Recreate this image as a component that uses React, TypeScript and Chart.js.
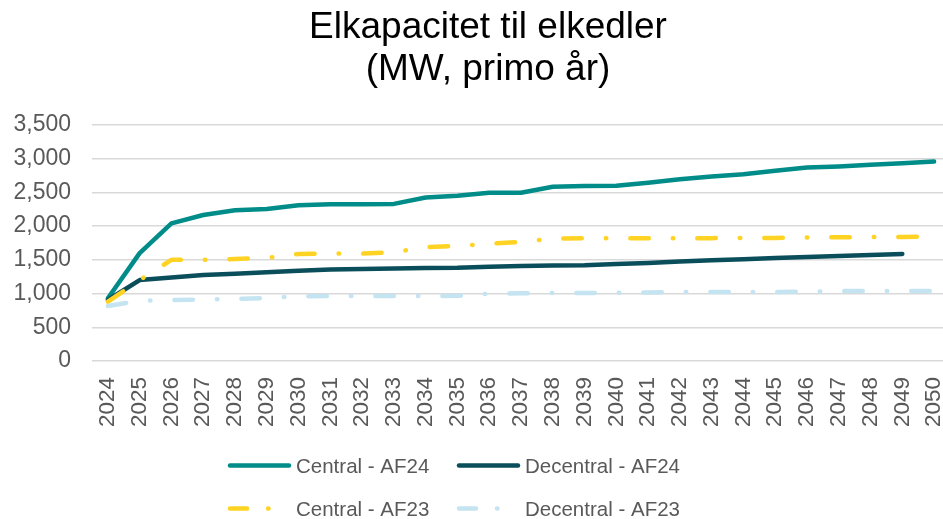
import React, { useEffect, useRef } from "react";
import { Chart, registerables } from "chart.js";

Chart.register(...registerables);

const titleLines = ["Elkapacitet til elkedler", "(MW, primo år)"];

const years = [
  2024, 2025, 2026, 2027, 2028, 2029, 2030, 2031, 2032, 2033, 2034, 2035, 2036,
  2037, 2038, 2039, 2040, 2041, 2042, 2043, 2044, 2045, 2046, 2047, 2048, 2049, 2050,
];

const centralAF24 = [
  930, 1600, 2040, 2165, 2235, 2255, 2310, 2325, 2325, 2330, 2425, 2450, 2495,
  2495, 2585, 2595, 2600, 2645, 2695, 2735, 2770, 2820, 2870, 2885, 2910, 2932, 2957,
];

const decentralAF24 = [
  905, 1200, 1237, 1275, 1295, 1315, 1340, 1358, 1363, 1370, 1380, 1382, 1398,
  1408, 1415, 1420, 1438, 1455, 1474, 1493, 1510, 1528, 1543, 1558, 1573, 1588, null,
];

const centralAF23 = [
  880, 1200, 1500, 1500, 1513, 1528, 1587, 1593, 1593, 1612, 1690, 1705, 1740,
  1765, 1815, 1820, 1820, 1820, 1820, 1822, 1825, 1825, 1832, 1835, 1838, 1840, 1845,
];

const decentralAF23 = [
  815, 895, 905, 912, 922, 935, 958, 964, 964, 964, 964, 966, 998,
  1005, 1009, 1009, 1010, 1015, 1022, 1024, 1024, 1024, 1030, 1036, 1038, 1038, 1040,
];

const seriesNames = ["Central - AF24", "Decentral - AF24", "Central - AF23", "Decentral - AF23"];
const seriesValues = [centralAF24, decentralAF24, centralAF23, decentralAF23];
const seriesColors = ["#008C88", "#0B4E5B", "#FFD324", "#C5E4F1"];
const seriesDashes: number[][] = [[], [], [18.5, 24, 0.5, 24], [18.5, 24, 0.5, 24]];

const yMin = 0;
const yMax = 3500;
const yStep = 500;

const FONT = '"Liberation Sans", Arial, sans-serif';
const TEXT_GREY = "#595959";
const LINE_W = 4.5;

const overlayPlugin = {
  id: "overlayText",
  afterDraw(chart: any) {
    const ctx = chart.ctx as CanvasRenderingContext2D;
    ctx.save();
    // Title
    ctx.fillStyle = "#000000";
    ctx.font = `37px ${FONT}`;
    ctx.textAlign = "center";
    ctx.textBaseline = "alphabetic";
    const titleX = 488;
    ctx.fillText(titleLines[0], titleX, 38);
    ctx.fillText(titleLines[1], titleX, 80);

    // Legend (2 x 2 grid)
    const colX = [228, 457];
    const rowY = [465.5, 508.5];
    ctx.font = `20.5px ${FONT}`;
    ctx.textAlign = "left";
    chart.data.datasets.forEach((ds: any, i: number) => {
      const col = i % 2;
      const row = Math.floor(i / 2);
      const x0 = colX[col];
      const y = rowY[row];
      ctx.save();
      ctx.strokeStyle = ds.borderColor;
      ctx.lineWidth = LINE_W;
      ctx.lineCap = "round";
      ctx.setLineDash(ds.borderDash && ds.borderDash.length ? [17, 21, 0.5, 21] : []);
      ctx.beginPath();
      ctx.moveTo(x0 + 2, y);
      ctx.lineTo(x0 + 61, y);
      ctx.stroke();
      ctx.restore();
      ctx.fillStyle = TEXT_GREY;
      ctx.textBaseline = "alphabetic";
      ctx.fillText(ds.label, x0 + 68, y + 7.3);
    });
    ctx.restore();
  },
};

const whiteBg = {
  id: "whiteBg",
  beforeDraw(chart: any) {
    const ctx = chart.ctx;
    ctx.save();
    ctx.fillStyle = "#ffffff";
    ctx.fillRect(0, 0, chart.width, chart.height);
    ctx.restore();
  },
};

export default function App() {
  const canvasRef = useRef<HTMLCanvasElement | null>(null);

  useEffect(() => {
    if (!canvasRef.current) return;
    const datasets = seriesNames.map((name, i) => ({
      label: name,
      data: years
        .map((yr, j) => ({ x: yr, y: seriesValues[i][j] }))
        .filter((p) => p.y !== null),
      borderColor: seriesColors[i],
      backgroundColor: seriesColors[i],
      borderWidth: LINE_W,
      borderDash: seriesDashes[i],
      borderCapStyle: "round",
      borderJoinStyle: "round",
      pointRadius: 0,
      pointHoverRadius: 0,
      tension: 0,
      fill: false,
      order: seriesNames.length - 1 - i,
      clip: false,
    }));

    const chart = new Chart(canvasRef.current, {
      type: "line",
      data: { datasets } as any,
      options: {
        animation: false,
        responsive: false,
        locale: "en-US",
        events: [],
        layout: { padding: { top: 125, bottom: 78, left: 0, right: 0 } },
        plugins: {
          legend: { display: false },
          title: { display: false },
          tooltip: { enabled: false },
        },
        scales: {
          x: {
            type: "linear",
            min: 2023.5,
            max: 2050.28,
            grid: { display: false, drawTicks: false },
            border: { display: false },
            afterBuildTicks: (axis: any) => {
              axis.ticks = years.map((v) => ({ value: v }));
            },
            afterFit: (axis: any) => {
              axis.height = 80;
              axis.paddingLeft = 0;
              axis.paddingRight = 0;
            },
            ticks: {
              autoSkip: false,
              minRotation: 90,
              maxRotation: 90,
              padding: 16,
              color: TEXT_GREY,
              font: { family: FONT, size: 22.5 },
              callback: (v: any) => String(v),
            },
          },
          y: {
            type: "linear",
            min: yMin,
            max: yMax,
            grid: { color: "#D9D9D9", lineWidth: 1.5, drawTicks: false },
            border: { display: false },
            afterFit: (axis: any) => {
              axis.width = 92;
            },
            ticks: {
              stepSize: yStep,
              padding: 21,
              color: TEXT_GREY,
              font: { family: FONT, size: 23 },
            },
          },
        },
      } as any,
      plugins: [whiteBg, overlayPlugin],
    });
    return () => chart.destroy();
  }, []);

  return (
    <div style={{ position: "absolute", left: 0, top: 0, width: 943, height: 519, background: "#fff" }}>
      <canvas ref={canvasRef} width={943} height={519} style={{ display: "block" }} />
    </div>
  );
}
